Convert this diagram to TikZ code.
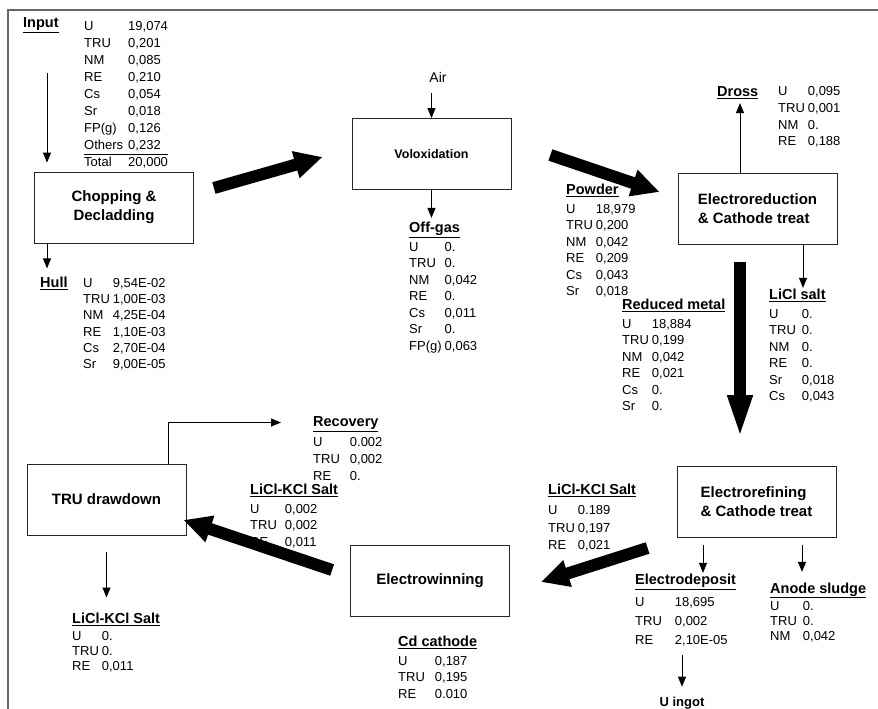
\documentclass[tikz,border=0pt]{standalone}
\usepackage{fontspec}
\setmainfont{Liberation Sans}
\usepackage{tikz}
\usetikzlibrary{arrows.meta,positioning}

\newcommand{\hd}[1]{\multicolumn{2}{@{}l@{}}{\fontsize{14.5}{17}\selectfont\bfseries\underline{#1}}\\[2.5pt]}

\begin{document}
\begin{tikzpicture}
  [x=1pt, y=-1pt,
   proc/.style={draw=black!85, line width=0.8pt, minimum width=159pt, minimum height=71pt,
     inner sep=2pt, align=center, font=\fontsize{15}{19}\selectfont\bfseries},
   data/.style={anchor=north west, inner sep=0pt, font=\fontsize{13}{16.5}\selectfont},
   lbl/.style={anchor=west, inner sep=0pt, font=\fontsize{14.5}{17}\selectfont\bfseries},
   flow/.style={line width=1pt, -{Triangle[width=8pt, length=10pt]}},
   bigflow/.style={line width=12pt, -{Triangle[width=26pt, length=28pt]}}]

  \useasboundingbox (0,0) rectangle (878,709);
  \draw [black!60, line width=1.2pt] (8,709) -- (8,10) -- (878,10);

  % process steps
  \node [proc] (chop) at (114,207.5) {Chopping \&\\Decladding};
  \node [proc, font=\fontsize{12.5}{15}\selectfont\bfseries] (volox) at (431.5,154) {Voloxidation};
  \node [proc, align=left] (ered) at (757.5,209) {Electroreduction\\\& Cathode treat};
  \node [proc, align=left] (eref) at (756.5,502) {Electrorefining\\\& Cathode treat};
  \node [proc] (ewin) at (430,580.5) {Electrowinning};
  \node [proc] (trudd) at (106.5,499.5) {TRU drawdown};

  % streams
  \node [lbl] (input) at (23,25) {\underline{Input}};
  \node [data, font=\fontsize{13}{17}\selectfont] (inputdat) at (84,18)
    {\begin{tabular}{@{}l@{\hspace{5pt}}l@{}}
      U & 19,074\\ TRU & 0,201\\ NM & 0,085\\ RE & 0,210\\ Cs & 0,054\\
      Sr & 0,018\\ FP(g) & 0,126\\ Others & 0,232\\\cline{1-2}
      Total & 20,000
    \end{tabular}};
  \node [lbl] (hull) at (40,283) {\underline{Hull}};
  \node [data, font=\fontsize{13}{16.2}\selectfont] (hulldat) at (83,276)
    {\begin{tabular}{@{}l@{\hspace{3pt}}l@{}}
      U & 9,54E-02\\ TRU & 1,00E-03\\ NM & 4,25E-04\\ RE & 1,10E-03\\
      Cs & 2,70E-04\\ Sr & 9,00E-05
    \end{tabular}};
  \node [font=\fontsize{14}{17}\selectfont, inner sep=0pt] (air) at (438,77) {Air};
  \node [data] (offgas) at (409,220.5)
    {\begin{tabular}{@{}l@{\hspace{3pt}}l@{}}
      \hd{Off-gas}
      U & 0.\\ TRU & 0.\\ NM & 0,042\\ RE & 0.\\ Cs & 0,011\\ Sr & 0.\\ FP(g) & 0,063
    \end{tabular}};
  \node [data] (powder) at (566,182.5)
    {\begin{tabular}{@{}l@{\hspace{3pt}}l@{}}
      \hd{Powder}
      U & 18,979\\ TRU & 0,200\\ NM & 0,042\\ RE & 0,209\\ Cs & 0,043\\ Sr & 0,018
    \end{tabular}};
  \node [lbl] (dross) at (717,93) {\underline{Dross}};
  \node [data, font=\fontsize{13}{16.7}\selectfont] (drossdat) at (778,84)
    {\begin{tabular}{@{}l@{\hspace{3pt}}l@{}}
      U & 0,095\\ TRU & 0,001\\ NM & 0.\\ RE & 0,188
    \end{tabular}};
  \node [data] (redmet) at (622,297.5)
    {\begin{tabular}{@{}l@{\hspace{3pt}}l@{}}
      \hd{Reduced metal}
      U & 18,884\\ TRU & 0,199\\ NM & 0,042\\ RE & 0,021\\ Cs & 0.\\ Sr & 0.
    \end{tabular}};
  \node [data] (liclsalt) at (769,287.5)
    {\begin{tabular}{@{}l@{\hspace{6pt}}l@{}}
      \hd{LiCl salt}
      U & 0.\\ TRU & 0.\\ NM & 0.\\ RE & 0.\\ Sr & 0,018\\ Cs & 0,043
    \end{tabular}};
  \node [data, font=\fontsize{13}{17.5}\selectfont] (lkright) at (548,482.5)
    {\begin{tabular}{@{}l@{\hspace{3pt}}l@{}}
      \hd{LiCl-KCl Salt}
      U & 0.189\\ TRU & 0,197\\ RE & 0,021
    \end{tabular}};
  \node [data, font=\fontsize{13}{19}\selectfont] (edep) at (635,571)
    {\begin{tabular}{@{}l@{\hspace{13pt}}l@{}}
      \hd{Electrodeposit}
      U & 18,695\\ TRU & 0,002\\ RE & 2,10E-05
    \end{tabular}};
  \node [font=\fontsize{13}{16}\selectfont\bfseries, inner sep=0pt] (ingot) at (682,703) {U ingot};
  \node [data, font=\fontsize{13}{15}\selectfont] (anode) at (770,582.5)
    {\begin{tabular}{@{}l@{\hspace{6pt}}l@{}}
      \hd{Anode sludge}
      U & 0.\\ TRU & 0.\\ NM & 0,042
    \end{tabular}};
  \node [data] (cdcath) at (398,634.5)
    {\begin{tabular}{@{}l@{\hspace{10pt}}l@{}}
      \hd{Cd cathode}
      U & 0,187\\ TRU & 0,195\\ RE & 0.010
    \end{tabular}};
  \node [data, font=\fontsize{13}{17}\selectfont] (recov) at (313,414.5)
    {\begin{tabular}{@{}l@{\hspace{10pt}}l@{}}
      \hd{Recovery}
      U & 0.002\\ TRU & 0,002\\ RE & 0.
    \end{tabular}};
  \node [data] (lkmid) at (250,482.5)
    {\begin{tabular}{@{}l@{\hspace{8pt}}l@{}}
      \hd{LiCl-KCl Salt}
      U & 0,002\\ TRU & 0,002\\ RE & 0,011
    \end{tabular}};
  \node [data, font=\fontsize{13}{15}\selectfont] (lkbot) at (72,612.5)
    {\begin{tabular}{@{}l@{\hspace{3pt}}l@{}}
      \hd{LiCl-KCl Salt}
      U & 0.\\ TRU & 0.\\ RE & 0,011
    \end{tabular}};

  % thin arrows
  \coordinate (inputTop) at (47,73);
  \draw [flow, shorten >=9pt] (inputTop) -- (inputTop |- chop.north);
  \draw [flow] ([xshift=-67pt]chop.south) -- ++(0,25);
  \draw [flow, shorten <=11pt] (air.south -| volox.north) -- (volox.north);
  \draw [flow] (volox.south) -- ++(0,28);
  \draw [flow] ([xshift=-17.5pt]ered.north) -- ++(0,-70);
  \draw [flow] ([xshift=45.5pt]ered.south) -- ++(0,43);
  \draw [flow] ([xshift=-53.5pt,yshift=-7pt]eref.south) -- ++(0,28);
  \draw [flow] ([xshift=45.5pt,yshift=-7pt]eref.south) -- ++(0,27);
  \draw [flow, shorten <=5pt, shorten >=10pt] (ingot.north |- edep.south) -- (ingot.north);
  \draw [flow] ([xshift=61.5pt]trudd.north) |- ([xshift=-32pt,yshift=-8pt]recov.north west);
  \draw [flow, shorten <=17pt, shorten >=15pt] (trudd.south) -- (trudd.south |- lkbot.north);

  % main line
  \draw [bigflow] ([xshift=20pt,yshift=19.5pt]chop.east) -- ([xshift=-29pt,yshift=-3pt]volox.west);
  \draw [bigflow] ([xshift=39pt,yshift=-1pt]volox.east) -- ([xshift=-18pt,yshift=17pt]ered.west);
  \draw [bigflow, -{Triangle[width=22pt,length=45pt]}] ([xshift=-17.5pt,yshift=-17pt]ered.south) -- ([xshift=-16.5pt,yshift=26pt]eref.north);
  \draw [bigflow] ([xshift=-29pt,yshift=-46pt]eref.west) -- ([xshift=31pt,yshift=-1.5pt]ewin.east);
  \draw [bigflow] ([xshift=-18pt,yshift=10.5pt]ewin.west) -- ([xshift=-3pt,yshift=-20.5pt]trudd.east);
\end{tikzpicture}
\end{document}
